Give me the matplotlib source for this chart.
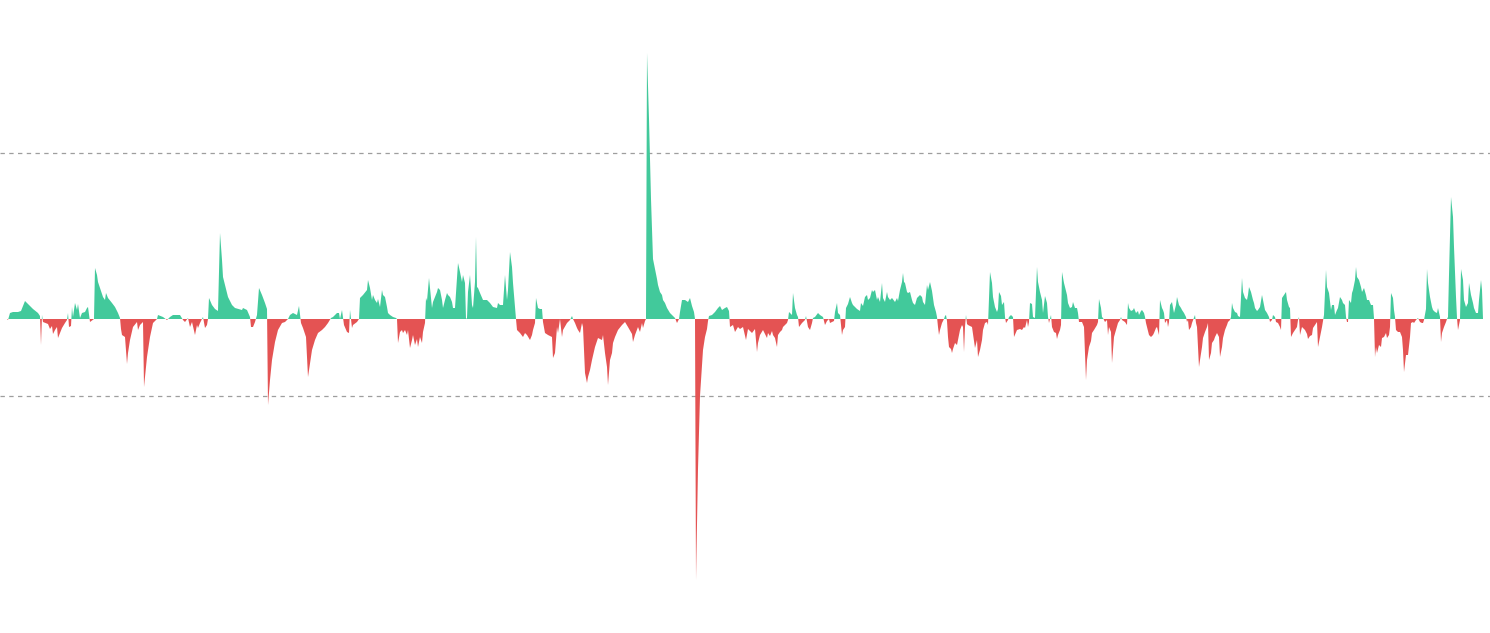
import numpy as np
import matplotlib
matplotlib.use("Agg")
import matplotlib.pyplot as plt

# (day, value) pairs, positive = green, negative = red
days = [7, 8, 10, 13, 18, 21, 23, 25, 28, 33, 38, 40, 41, 42, 43, 48, 50, 52, 53, 55, 57, 58, 60, 62, 65, 67, 68, 69, 71, 72, 73, 75, 77, 78, 80, 82, 85, 87, 88, 90, 94, 95, 97, 98, 100, 103, 105, 106, 108, 112, 115, 118, 120, 121, 122, 125, 127, 128, 130, 133, 137, 138, 140, 143, 144, 147, 150, 153, 157, 158, 163, 167, 170, 173, 180, 183, 185, 188,
        190, 192, 195, 197, 198, 200, 202, 203, 205, 207, 208, 209, 212, 215, 218, 220, 222, 223, 225, 228, 232, 235, 242, 243, 247, 250, 251, 253, 255, 257, 259, 262, 265, 267, 268, 270, 272, 275, 278, 282, 285, 288, 290, 293, 297, 299, 301, 303, 306, 308, 312, 315, 318, 322, 325, 328, 331, 333, 337, 339, 340, 342, 344, 347, 349, 350, 352, 353, 357, 359, 360, 363, 367, 368,
        370, 372, 373, 375, 377, 378, 380, 382, 383, 385, 387, 388, 390, 393, 396, 397, 398, 400, 402, 403, 405, 407, 408, 410, 412, 413, 415, 417, 418, 420, 422, 423, 425, 426, 427, 429, 432, 433, 435, 437, 438, 440, 442, 443, 445, 447, 448, 450, 452, 453, 455, 457, 458, 460, 462, 463, 465, 466, 467, 468, 470, 472, 473, 475, 476, 477, 478, 480, 483, 487, 490, 493, 497, 498, 500, 503, 505, 507, 508, 510, 512, 513, 515, 516, 517, 520, 523, 525, 527, 530, 532, 533, 535, 536, 538, 540, 542, 543, 545, 548, 552, 553, 555,
        557, 558, 560, 562, 563, 567, 570, 572, 573, 575, 577, 578, 580, 582, 583, 585, 587, 588, 590, 592, 595, 598, 602, 603, 605, 607, 608, 610, 612, 613, 615, 618, 622, 625, 628, 632, 633, 635, 638, 640, 642, 643, 645, 646, 647, 649, 651, 653, 655, 657, 658, 660, 662, 663, 665, 667, 670, 673, 675, 677, 678, 679, 680, 682, 685, 688, 690, 692, 694, 695, 696, 698, 700, 703, 705, 707, 708, 709, 712, 715, 718, 720, 722, 725, 727, 729, 730, 733, 735, 738, 740,
        743, 746, 748, 752, 755, 757, 758, 760, 763, 767, 768, 770, 772, 773, 775, 777, 778, 780, 782, 783, 787, 788, 789, 792, 793, 795, 797, 798, 799, 802, 805, 806, 808, 810, 812, 813, 815, 818, 820, 823, 825, 827, 829, 830, 834, 835, 837, 838, 840, 842, 843, 845, 846, 848, 850, 852, 853, 857, 860, 861, 863, 865, 867, 868, 870, 872, 873, 875, 877, 878, 880, 882, 883, 885, 887, 888, 890, 892, 895, 897, 898, 900, 902, 903, 904, 905, 907, 908, 910, 912, 913, 915, 917, 918, 920, 922, 923, 925, 927, 928,
        930, 932, 934, 936, 937, 938, 939, 940, 942, 944, 945, 946, 947, 948, 949, 951, 952, 953, 955, 957, 958, 960, 962, 963, 964, 965, 966, 967, 968, 972, 975, 977, 978, 980, 982, 983, 985, 987, 988, 990, 992, 993, 995, 997, 998, 999, 1001, 1002, 1004, 1005, 1006, 1008, 1009, 1011, 1013, 1014, 1017, 1020, 1022, 1024, 1025, 1027, 1028, 1029, 1030, 1032, 1033, 1035, 1037, 1038, 1040, 1042, 1043, 1045, 1047, 1048, 1049, 1051, 1052, 1054, 1056, 1057, 1058, 1060, 1061, 1062, 1064, 1067, 1068, 1070, 1072, 1073, 1075, 1077, 1078, 1079, 1082, 1084, 1086, 1087, 1089, 1091, 1092, 1094, 1097, 1098, 1099, 1101, 1102, 1103, 1105, 1107, 1108, 1109, 1111, 1112, 1114,
        1116, 1118, 1120, 1121, 1122, 1125, 1127, 1128, 1129, 1131, 1133, 1134, 1136, 1138, 1139, 1141, 1142, 1144, 1145, 1146, 1147, 1149, 1151, 1153, 1154, 1156, 1157, 1159, 1160, 1162, 1163, 1164, 1165, 1167, 1168, 1169, 1170, 1172, 1174, 1176, 1177, 1179, 1181, 1182, 1184, 1186, 1187, 1188, 1189, 1191, 1192, 1195, 1196, 1197, 1199, 1200, 1202, 1203, 1205, 1207, 1208, 1209, 1211, 1212, 1214, 1215, 1217, 1219, 1220, 1222, 1223, 1225, 1227, 1228, 1230, 1231, 1232, 1233, 1235, 1237, 1238, 1240, 1242, 1243, 1245, 1247, 1248, 1249, 1251, 1253, 1254, 1255, 1257, 1258, 1260, 1262, 1263, 1265, 1267, 1268, 1269, 1270, 1272, 1273, 1275, 1276, 1278, 1280, 1281, 1282, 1284, 1286, 1287, 1289, 1290, 1291, 1293, 1295, 1297, 1298, 1299,
        1300, 1302, 1305, 1307, 1308, 1310, 1312, 1313, 1315, 1317, 1318, 1320, 1322, 1323, 1324, 1326, 1327, 1329, 1331, 1332, 1334, 1335, 1337, 1338, 1340, 1342, 1343, 1345, 1346, 1347, 1348, 1349, 1351, 1352, 1353, 1355, 1356, 1357, 1359, 1361, 1362, 1364, 1366, 1367, 1369, 1371, 1373, 1374, 1375, 1376, 1377, 1379, 1381, 1382, 1384, 1386, 1387, 1389, 1390, 1391, 1393, 1394, 1395, 1396, 1398, 1400, 1402, 1403, 1404, 1406, 1408, 1410, 1411, 1413, 1414, 1416, 1418, 1420, 1422, 1423, 1424, 1426, 1427, 1428, 1430, 1432, 1433, 1435, 1437, 1438, 1440, 1441, 1442, 1444, 1446, 1447, 1448, 1449, 1451, 1453, 1454, 1456, 1457, 1458, 1460, 1461, 1463, 1464, 1466, 1468, 1469, 1471, 1473, 1474, 1476, 1478, 1479, 1481, 1482, 1483]

values = [0, -1, 6, 7, 7, 8, 13, 18, 15, 10, 6, 3, -26, 4, -3, -5, -10, -7, -15, -11, -8, -19, -14, -9, -4, -1, 6, -8, -7, 12, 2, 16, 9, 15, 1, 6, 7, 11, 12, -3, 0, 51, 44, 37, 31, 22, 19, 26, 21, 16, 12, 6, 1, -10, -16, -18, -45, -34, -21, -8, -3, -11, -6, -3, -68, -38, -18, -4, 0, 4, 2, -1, 2, 4, 4, -1, -3, 1,
          -8, -3, -16, -6, -9, -4, 0, 2, -9, -6, 0, 21, 14, 10, 8, 86, 59, 42, 34, 22, 14, 11, 9, 11, 9, 2, -8, -8, -3, 4, 31, 24, 16, 10, -86, -61, -41, -23, -11, -4, -3, 0, 4, 6, 4, 13, -4, -9, -18, -58, -31, -21, -14, -11, -8, -4, 1, 2, 6, 6, 0, 9, -6, -13, -14, 9, -9, -6, -3, 0, 21, 24, 29, 39,
          31, 19, 24, 19, 16, 20, 12, 29, 24, 22, 12, 6, 4, 2, 1, 0, -24, -13, -11, -14, -11, -16, -11, -29, -21, -16, -26, -20, -28, -18, -24, -13, -4, 21, 18, 41, 11, 17, 22, 27, 31, 29, 19, 11, 19, 26, 24, 22, 17, 11, 11, 41, 56, 47, 37, 44, 36, 0, 1, 27, 44, 14, 11, 37, 82, 32, 31, 26, 19, 19, 16, 12, 11, 16, 14, 14, 44, 19, 29, 67, 52, 36, 12, 0, -11, -14, -18, -14, -16, -21, -16, -11, -4, 21, 11, 10, 10, -3, -14, -16, -18, -39, -34,
          -8, -14, 0, -18, -11, -4, -1, 3, 0, -4, -9, -11, -14, -4, -8, -54, -64, -58, -51, -41, -28, -19, -21, -16, -34, -48, -66, -41, -34, -24, -18, -11, -6, -3, -8, -15, -23, -16, -8, -13, -4, -9, -2, 0, 266, 200, 120, 60, 50, 40, 34, 27, 24, 19, 16, 11, 6, 3, 1, -4, -2, 0, 7, 19, 19, 17, 21, 13, 7, 0, -261, -150, -77, -31, -18, -10, -2, 3, 4, 7, 11, 13, 9, 11, 12, 8, -8, -6, -13, -8, -10,
          -8, -21, -10, -14, -10, -33, -24, -16, -11, -19, -14, -17, -12, -16, -19, -28, -16, -13, -11, -8, -4, -1, 7, 4, 26, 11, 4, 2, -8, -4, -1, 3, -8, -11, -4, 1, 2, 6, 4, 2, -6, -2, 0, -4, -2, 7, 16, 6, 4, -16, -11, -8, 11, 15, 22, 16, 14, 10, 8, 16, 13, 22, 24, 19, 21, 29, 27, 29, 19, 22, 17, 36, 21, 17, 27, 22, 19, 21, 17, 21, 18, 29, 37, 46, 37, 36, 27, 26, 27, 19, 16, 14, 21, 22, 24, 22, 17, 14, 34, 29,
          37, 28, 14, 7, 2, -8, -16, -11, -4, 0, 3, 4, -2, -18, -28, -30, -34, -30, -24, -26, -21, -11, -6, -8, -33, -8, 4, -5, -6, -8, -29, -21, -38, -31, -21, -11, -4, -3, -6, 47, 36, 22, 12, 7, 10, 27, 23, 14, 17, 2, -4, -1, 2, 4, 2, -18, -11, -10, -11, -8, -9, -1, -8, -3, 16, 15, 2, 1, 52, 37, 27, 19, 6, 23, 16, 2, -4, 4, -8, -13, -14, -20, -16, -11, -6, 47, 36, 24, 16, 11, 12, 17, 11, 11, 6, -3, -3, -8, -61, -41, -28, -22, -14, -11, -6, -3, 20, 11, 2, 1, -3, -1, -16, -8, -13, -44, -18,
          -11, -4, -1, 2, -1, -3, -6, 16, 11, 8, 9, 11, 6, 8, 4, 8, 9, 6, 2, -4, -8, -16, -18, -16, -14, -9, -8, -16, 19, 11, 9, 6, -4, -1, -8, -3, 14, 17, 6, 14, 22, 14, 11, 9, 6, 2, -3, -1, -11, -8, -4, 4, -4, -8, -48, -41, -28, -19, -13, -8, -4, -41, -34, -24, -21, -18, -14, -18, -38, -28, -19, -11, -6, -3, -1, 2, 16, 11, 7, 6, 3, 2, 41, 27, 21, 19, 24, 32, 27, 19, 16, 11, 8, 9, 12, 24, 19, 9, 6, 4, 2, -3, -1, 4, 2, -3, -4, -8, -11, 21, 24, 27, 19, 12, 11, -18, -14, -11, -8, -1, 2,
          -16, -8, -11, -15, -20, -17, -16, -9, -6, -3, -28, -18, -8, -2, 4, 49, 32, 26, 9, 14, 14, 4, 9, 11, 22, 19, 16, 14, 2, -3, -3, 19, 16, 26, 29, 39, 52, 42, 39, 32, 27, 31, 24, 19, 19, 14, 14, 1, -38, -28, -34, -26, -28, -19, -18, -14, -19, -16, -8, 26, 21, 9, 2, -11, -13, -13, -18, -31, -53, -36, -36, -18, -4, -3, -4, -1, 1, -3, -4, -4, -1, 10, 50, 36, 22, 12, 9, 7, 6, 11, 2, -23, -14, -8, -3, 0, 2, 44, 122, 102, 72, 22, 1, -11, -1, 50, 39, 19, 12, 16, 36, 24, 16, 11, 6, 6, 19, 39, 29, 0]

grid_levels = [166, -77]

GREEN = '#42c99b'
RED = '#e45353'

x = np.array(days, dtype=float)
y = np.array(values, dtype=float)

fig = plt.figure(figsize=(14.9, 6.33), dpi=100)
ax = fig.add_axes([0, 0, 1, 1])

for lvl in grid_levels:
    ax.axhline(lvl, color='#9e9e9e', linewidth=0.9, linestyle=(0, (3.5, 3.5)), zorder=0)

ax.fill_between(x, y, 0, where=y >= 0, interpolate=True, color=GREEN, linewidth=0, zorder=2)
ax.fill_between(x, y, 0, where=y <= 0, interpolate=True, color=RED, linewidth=0, zorder=2)

ax.set_xlim(0, 1490)
ax.set_ylim(-314, 319)
ax.axis('off')

fig.savefig('out.png', dpi=100, facecolor='white')
